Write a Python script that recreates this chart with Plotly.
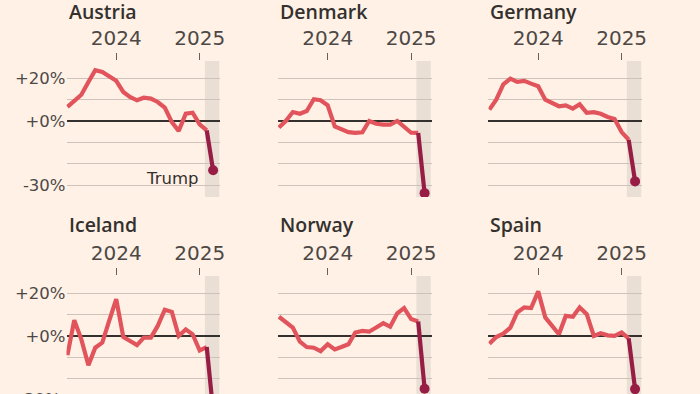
import plotly.graph_objects as go

months = ["2023-06-01", "2023-07-01", "2023-08-01", "2023-09-01", "2023-10-01", "2023-11-01",
          "2023-12-01", "2024-01-01", "2024-02-01", "2024-03-01", "2024-04-01", "2024-05-01",
          "2024-06-01", "2024-07-01", "2024-08-01", "2024-09-01", "2024-10-01", "2024-11-01",
          "2024-12-01", "2025-01-01", "2025-02-01", "2025-03-01"]

countries = ["Austria", "Denmark", "Germany", "Iceland", "Norway", "Spain"]

austria = [6.6, 9.7, 12.3, 18.3, 23.8, 23.0, 21.0, 18.8, 13.6, 11.3, 9.7, 10.9,
           10.5, 8.9, 6.3, -0.5, -4.7, 3.4, 3.9, -1.6, -4.4, -23.1]
denmark = [-3.1, 0.0, 4.2, 3.4, 4.7, 10.2, 9.7, 7.3, -2.5, -3.9, -5.2, -5.6,
           -5.3, 0.0, -1.3, -1.7, -1.7, 0.0, -2.5, -5.5, -5.6, -33.8]
germany = [5.3, 10.0, 17.2, 19.8, 18.3, 18.8, 17.5, 16.3, 10.0, 8.4, 6.9, 7.3,
           5.8, 7.8, 3.8, 4.1, 3.4, 1.9, 0.9, -5.2, -8.8, -28.3]
iceland = [-9.0, 7.4, -1.6, -13.7, -5.5, -3.1, 7.1, 17.3, -0.5, -2.4, -4.3, -0.8,
           -0.8, 4.7, 12.3, 11.3, 0.0, 3.1, 0.8, -6.8, -5.2, -35.0]
norway = [9.0, 6.3, 3.9, -2.7, -5.2, -5.5, -7.1, -3.9, -6.3, -5.2, -3.9, 1.6,
          2.4, 2.0, 3.9, 6.0, 4.3, 10.6, 13.1, 7.9, 6.8, -24.7]
spain = [-3.6, -0.5, 1.1, 3.9, 11.0, 13.4, 13.1, 20.9, 8.7, 4.7, 0.8, 9.4,
         9.0, 13.4, 10.2, 0.0, 1.3, 0.3, 0.0, 1.6, -1.1, -24.9]

series = [austria, denmark, germany, iceland, norway, spain]

y_tickvals = [-30, -20, -10, 0, 10, 20]
y_ticktext = ["-30%", "", "", "+0%", "", "+20%"]
x_tickvals = ["2024-01-01", "2025-01-01"]
x_ticktext = ["2024", "2025"]

BG = "#fff1e5"
RED = "#e2545c"
DARK = "#981d45"
GRID = "#cec3ba"
BAND = "#e9dfd5"
TXT = "#4d4845"
TITLE = "#33302e"

W, H = 700, 394
col_px = [(67, 222), (280, 435), (492, 647)]
row_px = [(61, 197), (276, 394)]
title_px = [12, 224]
row_range = [[-35.6, 28.1], [-27.2, 28.1]]
x_range = ["2023-05-28", "2025-04-02"]

fig = go.Figure()
shapes = []
annotations = []

for i, (name, vals) in enumerate(zip(countries, series)):
    r, c = divmod(i, 3)
    k = i + 1
    xa = "x" if k == 1 else f"x{k}"
    ya = "y" if k == 1 else f"y{k}"
    fig.add_trace(go.Scatter(x=months[:-1], y=vals[:-1], mode="lines",
                             line=dict(color=RED, width=4.2), xaxis=xa, yaxis=ya,
                             showlegend=False, hoverinfo="skip"))
    fig.add_trace(go.Scatter(x=months[-2:], y=vals[-2:], mode="lines",
                             line=dict(color=DARK, width=4.2), xaxis=xa, yaxis=ya,
                             showlegend=False, hoverinfo="skip"))
    fig.add_trace(go.Scatter(x=months[-1:], y=vals[-1:], mode="markers",
                             marker=dict(color=DARK, size=10), xaxis=xa, yaxis=ya,
                             showlegend=False, hoverinfo="skip"))
    x0, x1 = col_px[c]
    y0, y1 = row_px[r]
    xkey = "xaxis" if k == 1 else f"xaxis{k}"
    ykey = "yaxis" if k == 1 else f"yaxis{k}"
    fig.layout[xkey] = dict(
        domain=[x0 / W, x1 / W], range=x_range, type="date", anchor=ya, side="top",
        tickvals=x_tickvals, ticktext=x_ticktext, ticks="outside", ticklen=7,
        tickwidth=1.3, tickcolor="#66605c", showgrid=False, showline=False, zeroline=False,
        tickfont=dict(family="DejaVu Sans", size=20, color=TXT), fixedrange=True,
    )
    fig.layout[ykey] = dict(
        domain=[1 - y1 / H, 1 - y0 / H], range=row_range[r], anchor=xa,
        tickvals=y_tickvals, ticktext=y_ticktext, showticklabels=(c == 0), ticks="",
        showgrid=True, gridcolor=GRID, gridwidth=1.2, zeroline=True,
        zerolinecolor="#33302e", zerolinewidth=1.6, showline=False,
        tickfont=dict(family="DejaVu Sans", size=16.5, color=TXT), fixedrange=True,
    )
    shapes.append(dict(type="rect", xref=xa, yref=f"{ya} domain", x0="2025-01-24",
                       x1="2025-03-28", y0=0, y1=1, fillcolor=BAND, line=dict(width=0),
                       layer="below"))
    annotations.append(dict(text=name, xref="paper", yref="paper", x=x0 / W,
                            y=1 - title_px[r] / H, xanchor="left", yanchor="middle",
                            showarrow=False,
                            font=dict(family="Open Sans", size=19.5, color=TITLE, weight=600)))

annotations.append(dict(text="Trump", xref="x", yref="y", x="2025-01-01", y=-27,
                        xanchor="right", yanchor="middle", showarrow=False,
                        font=dict(family="DejaVu Sans", size=16.5, color="#33302e")))
annotations.append(dict(text="-30%", xref="paper", yref="paper", x=63 / W,
                        y=1 - 399 / H, xanchor="right", yanchor="middle", showarrow=False,
                        font=dict(family="DejaVu Sans", size=16.5, color=TXT)))

fig.update_layout(width=W, height=H, margin=dict(l=0, r=0, t=0, b=0),
                  paper_bgcolor=BG, plot_bgcolor=BG, shapes=shapes,
                  annotations=annotations, showlegend=False)

fig.write_html("out.html", config={"displayModeBar": False},
               post_script="document.body.style.margin='0';document.body.style.overflow='hidden';")
